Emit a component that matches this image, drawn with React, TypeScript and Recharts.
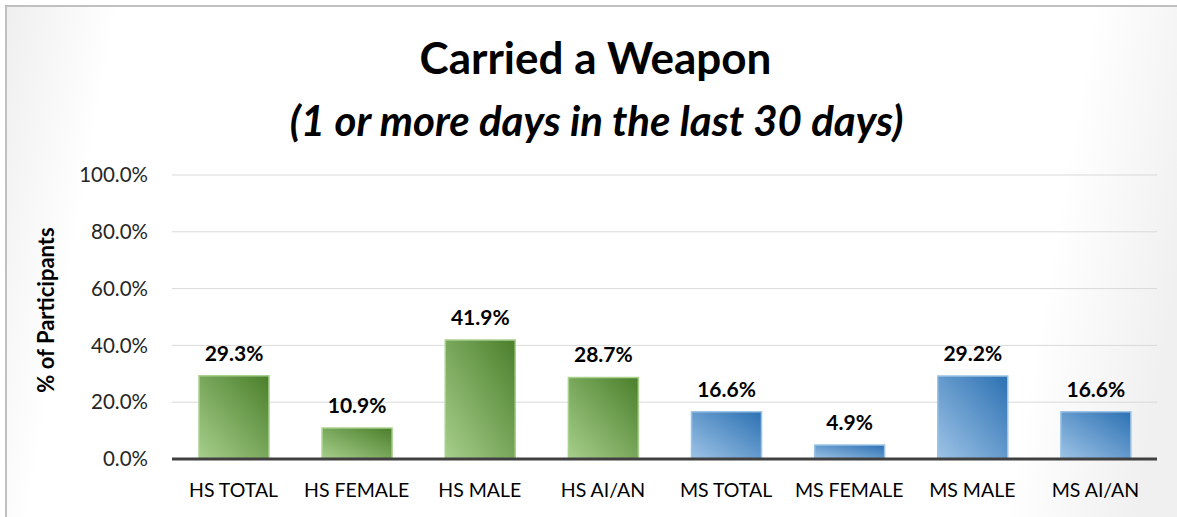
import { BarChart, Bar, XAxis, YAxis, CartesianGrid, Cell, LabelList } from 'recharts';

const categories = ['HS TOTAL', 'HS FEMALE', 'HS MALE', 'HS AI/AN', 'MS TOTAL', 'MS FEMALE', 'MS MALE', 'MS AI/AN'];
const values = [29.3, 10.9, 41.9, 28.7, 16.6, 4.9, 29.2, 16.6];
const groups = ['HS', 'HS', 'HS', 'HS', 'MS', 'MS', 'MS', 'MS'];
const yTicks = [0, 20, 40, 60, 80, 100];

const FONT = 'Lato, "Open Sans", sans-serif';

const data = categories.map((name, i) => ({ name, value: values[i], group: groups[i] }));

export default function App() {
  return (
    <div
      style={{
        position: 'absolute',
        left: 0,
        top: 0,
        width: 1177,
        height: 517,
        overflow: 'hidden',
        background: '#fff',
        fontFamily: FONT,
      }}
    >
      <div
        style={{
          position: 'absolute',
          left: 5,
          top: 5,
          width: 1200,
          height: 540,
          border: '2px solid #c0c0c0',
          background:
            'linear-gradient(100deg, #efefef 0px, #ffffff 110px, #ffffff 1070px, #f0f0f0 1200px)',
        }}
      />
      <div
        style={{
          position: 'absolute',
          left: 0,
          width: 1177,
          top: 30,
          textAlign: 'center',
          paddingLeft: 14,
          boxSizing: 'border-box',
          fontSize: 44,
          fontWeight: 700,
          color: '#000',
          lineHeight: '54px',
        }}
      >
        Carried a Weapon
      </div>
      <div
        style={{
          position: 'absolute',
          left: 0,
          width: 1177,
          top: 94,
          textAlign: 'center',
          paddingLeft: 16,
          boxSizing: 'border-box',
          fontSize: 42,
          fontWeight: 700,
          fontStyle: 'italic',
          color: '#000',
          lineHeight: '52px',
        }}
      >
        (1 or more days in the last 30 days)
      </div>
      <div
        style={{
          position: 'absolute',
          left: 45,
          top: 310,
          transform: 'translate(-50%, -50%) rotate(-90deg)',
          whiteSpace: 'nowrap',
          fontSize: 22,
          fontWeight: 700,
          color: '#000',
        }}
      >
        % of Participants
      </div>
      <div style={{ position: 'absolute', left: 0, top: 0 }}>
        <BarChart
          width={1177}
          height={517}
          data={data}
          margin={{ top: 175, right: 20, bottom: 14, left: 0 }}
          barSize={70}
        >
          <defs>
            <linearGradient id="gradHS" x1="1" y1="0" x2="0" y2="1">
              <stop offset="0%" stopColor="#4b7f2b" />
              <stop offset="100%" stopColor="#a6cf8b" />
            </linearGradient>
            <linearGradient id="gradMS" x1="1" y1="0" x2="0" y2="1">
              <stop offset="0%" stopColor="#2c71b3" />
              <stop offset="100%" stopColor="#9dc3e6" />
            </linearGradient>
          </defs>
          <CartesianGrid vertical={false} stroke="#d9d9d9" strokeWidth={1} />
          <XAxis
            dataKey="name"
            height={44}
            axisLine={{ stroke: '#404040', strokeWidth: 3 }}
            tickLine={false}
            tickMargin={18}
            interval={0}
            tick={{ fill: '#000', fontSize: 19.5, fontFamily: FONT }}
          />
          <YAxis
            width={172}
            domain={[0, 100]}
            ticks={yTicks}
            axisLine={false}
            tickLine={false}
            tickMargin={18}
            tickFormatter={(v: number) => `${v.toFixed(1)}%`}
            tick={{ fill: '#262626', fontSize: 20.5, fontFamily: FONT }}
          />
          <Bar dataKey="value" isAnimationActive={false} strokeWidth={1.5}>
            {data.map((d, i) => (
              <Cell
                key={i}
                fill={d.group === 'HS' ? 'url(#gradHS)' : 'url(#gradMS)'}
                stroke={d.group === 'HS' ? '#a9d18e' : '#9dc3e6'}
              />
            ))}
            <LabelList
              dataKey="value"
              position="top"
              offset={15}
              formatter={(v: number) => `${v}%`}
              style={{ fill: '#000', fontSize: 21, fontWeight: 700, fontFamily: FONT }}
            />
          </Bar>
        </BarChart>
      </div>
    </div>
  );
}
